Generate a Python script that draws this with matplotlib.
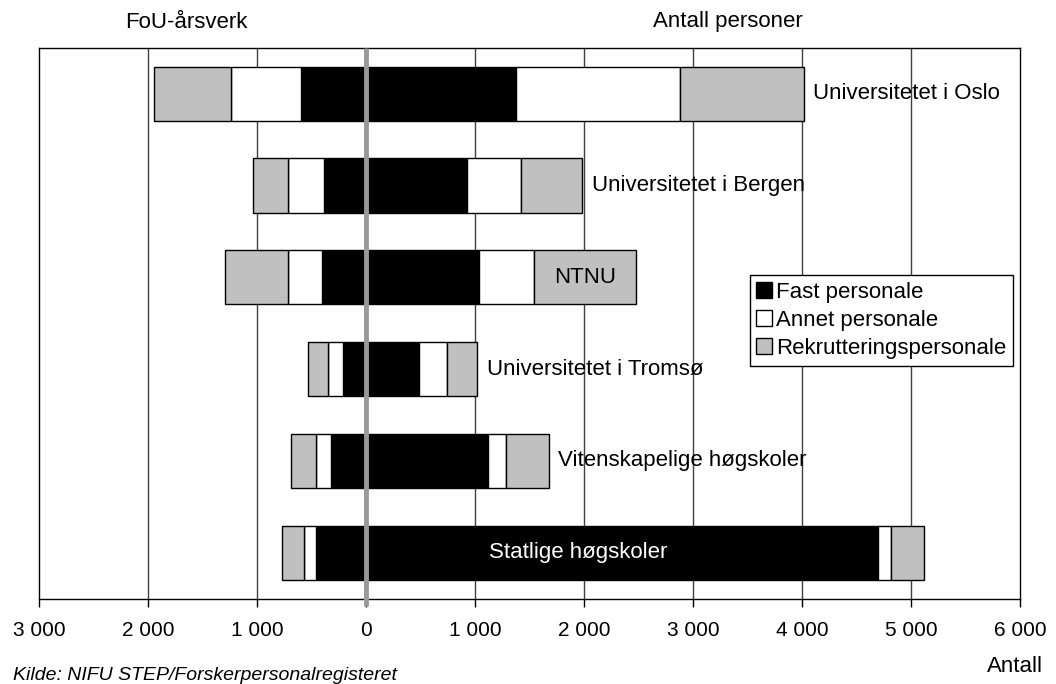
import matplotlib.pyplot as plt
import matplotlib.patches as mpatches
from matplotlib.ticker import FuncFormatter, MultipleLocator
import numpy as np

plt.rcParams['font.family'] = ['Liberation Sans', 'DejaVu Sans']

# Data, top to bottom
institutions = [
    "Universitetet i Oslo",
    "Universitetet i Bergen",
    "NTNU",
    "Universitetet i Tromsø",
    "Vitenskapelige høgskoler",
    "Statlige høgskoler",
]

# FoU-årsverk (drawn to the left)
aars_fast = [601, 384, 402, 210, 320, 463]
aars_annet = [639, 335, 315, 144, 143, 107]
aars_rekrutt = [707, 318, 575, 180, 232, 204]

# Antall personer (drawn to the right)
pers_fast = [1377, 923, 1038, 484, 1115, 4692]
pers_annet = [1499, 494, 500, 253, 165, 125]
pers_rekrutt = [1137, 560, 936, 283, 393, 302]

series_labels = ["Fast personale", "Annet personale", "Rekrutteringspersonale"]
series_colors = ["#000000", "#FFFFFF", "#C0C0C0"]

fig = plt.figure(figsize=(10.56, 6.84), dpi=100)
ax = fig.add_axes([0.0372, 0.1247, 0.929, 0.8056])

y = np.arange(len(institutions))
h = 0.59

left_parts = [np.array(aars_fast), np.array(aars_annet), np.array(aars_rekrutt)]
right_parts = [np.array(pers_fast), np.array(pers_annet), np.array(pers_rekrutt)]

lstart = np.zeros(len(y))
rstart = np.zeros(len(y))
for part_l, part_r, col in zip(left_parts, right_parts, series_colors):
    ax.barh(y, -part_l, left=-lstart, height=h, color=col, edgecolor="black",
            linewidth=1, zorder=2)
    ax.barh(y, part_r, left=rstart, height=h, color=col, edgecolor="black",
            linewidth=1, zorder=2)
    lstart = lstart + part_l
    rstart = rstart + part_r

# vertical grid and zero line
for xv in range(-2000, 6000, 1000):
    if xv != 0:
        ax.axvline(xv, color="#404040", linewidth=1, zorder=1)
ax.plot([0, 0], [-0.5, 5.58], color="#999999", linewidth=3.5, zorder=3,
        clip_on=False, solid_capstyle="butt")

ax.set_xlim(-3000, 6000)
ax.set_ylim(5.5, -0.5)
ax.set_yticks([])
ax.xaxis.set_major_locator(MultipleLocator(1000))
ax.xaxis.set_major_formatter(FuncFormatter(lambda v, p: f"{abs(int(v)):,}".replace(",", " ")))
ax.tick_params(axis="x", direction="out", length=6, width=1, labelsize=15, pad=10)
for s in ax.spines.values():
    s.set_linewidth(1)
    s.set_color("black")

# category labels
for i, name in enumerate(institutions):
    total = rstart[i]
    if name == "NTNU":
        mid = total - pers_rekrutt[i] / 2
        ax.text(mid, i, name, ha="center", va="center", fontsize=16, zorder=4)
    elif name == "Statlige høgskoler":
        ax.text(1130, i, name, ha="left", va="center", fontsize=16,
                color="white", zorder=4)
    else:
        ax.annotate(name, (total, i), xytext=(7, 0), textcoords="offset points",
                    ha="left", va="center", fontsize=16, zorder=4)

handles = [mpatches.Patch(facecolor=c, edgecolor="black", linewidth=1, label=l)
           for c, l in zip(series_colors, series_labels)]
leg = ax.legend(handles=handles, loc="upper left",
                bbox_to_anchor=(749.7 / 1056, 1 - 275 / 684),
                bbox_transform=fig.transFigure, fontsize=16, fancybox=False,
                framealpha=1, edgecolor="black", handlelength=0.7,
                handleheight=0.7, handletextpad=0.2, labelspacing=0.32,
                borderpad=0.3, borderaxespad=0)
leg.get_frame().set_linewidth(1)

fig.text(186 / 1056, 1 - 22 / 684, "FoU-årsverk", ha="center", va="center", fontsize=16)
fig.text(728 / 1056, 1 - 22 / 684, "Antall personer", ha="center", va="center", fontsize=16)
fig.text(13 / 1056, 1 - 675 / 684, "Kilde: NIFU STEP/Forskerpersonalregisteret",
         ha="left", va="center", fontsize=14, style="italic")
fig.text(1043 / 1056, 1 - 667 / 684, "Antall", ha="right", va="center", fontsize=16)

fig.savefig("out.png", dpi=100)
